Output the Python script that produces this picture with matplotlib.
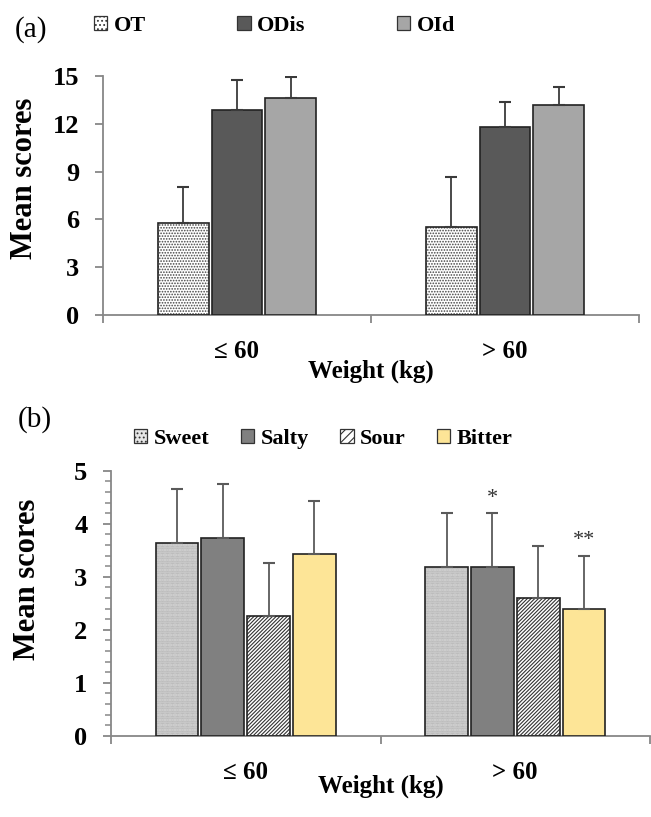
import matplotlib
matplotlib.use("Agg")
import matplotlib.pyplot as plt
from matplotlib.patches import Patch
import numpy as np

plt.rcParams['font.family'] = ['Liberation Serif', 'DejaVu Serif']
plt.rcParams['hatch.linewidth'] = 0.8

# ---------------- data ----------------
categories = ["\u2264 60", "> 60"]
xlabel_txt = "Weight (kg)"
ylabel_txt = "Mean scores"

odor_names = ["OT", "ODis", "OId"]
ot_mean = [5.75, 5.5]
ot_sd = [2.28, 3.18]
odis_mean = [12.87, 11.78]
odis_sd = [1.88, 1.57]
oid_mean = [13.6, 13.2]
oid_sd = [1.32, 1.13]

taste_names = ["Sweet", "Salty", "Sour", "Bitter"]
sweet_mean = [3.64, 3.19]
sweet_sd = [1.01, 1.01]
salty_mean = [3.73, 3.19]
salty_sd = [1.01, 1.01]
sour_mean = [2.26, 2.60]
sour_sd = [0.99, 0.98]
bitter_mean = [3.43, 2.40]
bitter_sd = [1.00, 1.00]

# significance marks: (series index, category index, label)
sig_marks = [(1, 1, "*"), (3, 1, "**")]

# ---------------- styles ----------------
odor_styles = [
    dict(fc="white", hatch="......", hc="#444444"),
    dict(fc="#595959", hatch=None, hc=None),
    dict(fc="#a6a6a6", hatch=None, hc=None),
]
taste_styles = [
    dict(fc="#e6e6e6", hatch="..........", hc="#a0a0a0"),
    dict(fc="#808080", hatch=None, hc=None),
    dict(fc="white", hatch="/////////", hc="#333333"),
    dict(fc="#fde597", hatch=None, hc=None),
]

SPINE = "#878787"
W, H = 651, 817
fig = plt.figure(figsize=(W / 100, H / 100), dpi=100)
ax1 = fig.add_axes([103 / W, 1 - 315 / H, 536 / W, 239 / H])
ax2 = fig.add_axes([111 / W, 1 - 735.7 / H, 539 / W, 265 / H])


def draw(ax, means, sds, styles, width, step, ecolor):
    x = np.arange(len(categories))
    n = len(means)
    offs = (np.arange(n) - (n - 1) / 2) * step
    tops = []
    for i in range(n):
        st = styles[i]
        xs = x + offs[i]
        if st["hatch"]:
            ax.bar(xs, means[i], width, color=st["fc"], edgecolor=st["hc"],
                   hatch=st["hatch"], linewidth=0, zorder=2)
            ax.bar(xs, means[i], width, color="none", edgecolor="#222222",
                   linewidth=1.2, zorder=3)
        else:
            ax.bar(xs, means[i], width, color=st["fc"], edgecolor="#222222",
                   linewidth=1.2, zorder=3)
        ax.errorbar(xs, means[i], yerr=[np.zeros(len(x)), sds[i]], fmt="none",
                    ecolor=ecolor, elinewidth=1.3, capsize=4, capthick=1.5,
                    zorder=4)
        tops.append((xs, np.array(means[i]) + np.array(sds[i])))
    return tops


def style_axes(ax):
    for s in ["top", "right"]:
        ax.spines[s].set_visible(False)
    for s in ["left", "bottom"]:
        ax.spines[s].set_color(SPINE)
        ax.spines[s].set_linewidth(1.3)
    ax.set_xlim(-0.5, 1.5)
    ax.set_xticks([-0.5, 0.5, 1.5])
    ax.set_xticklabels([])
    ax.set_xticks([0, 1], minor=True)
    ax.set_xticklabels(categories, minor=True, fontsize=18, fontweight="bold")
    ax.tick_params(axis="x", which="major", length=6, width=1.3, color=SPINE,
                   direction="out")
    ax.tick_params(axis="x", which="minor", length=0, pad=18)
    ax.tick_params(axis="y", which="major", length=6, width=1.3, color=SPINE,
                   labelsize=19, pad=11)
    ax.tick_params(axis="y", which="minor", length=4, width=1.1, color=SPINE)
    for lab in ax.get_yticklabels():
        lab.set_fontweight("bold")


# ---- panel (a) ----
draw(ax1, [ot_mean, odis_mean, oid_mean], [ot_sd, odis_sd, oid_sd],
     odor_styles, 0.19, 0.2, "#3a3a3a")
style_axes(ax1)
ax1.set_ylim(0, 15)
ax1.set_yticks(np.arange(0, 16, 3))
ax1.set_yticklabels([str(v) for v in range(0, 16, 3)], fontweight="bold")
ax1.set_ylabel(ylabel_txt, fontsize=22, fontweight="bold", va="center")
ax1.yaxis.set_label_coords(-0.147, 0.573)
ax1.set_xlabel(xlabel_txt, fontsize=18, fontweight="bold")
ax1.xaxis.set_label_coords(0.5, -0.185)

# ---- panel (b) ----
tops = draw(ax2, [sweet_mean, salty_mean, sour_mean, bitter_mean],
            [sweet_sd, salty_sd, sour_sd, bitter_sd],
            taste_styles, 0.159, 0.17, "#5a5a5a")
style_axes(ax2)
ax2.set_ylim(0, 5)
ax2.set_yticks(np.arange(0, 6, 1))
ax2.set_yticklabels([str(v) for v in range(0, 6)], fontweight="bold")
ax2.set_yticks(np.arange(0, 5.01, 0.2), minor=True)
ax2.set_ylabel(ylabel_txt, fontsize=22, fontweight="bold", va="center")
ax2.yaxis.set_label_coords(-0.154, 0.591)
ax2.set_xlabel(xlabel_txt, fontsize=18, fontweight="bold")
ax2.xaxis.set_label_coords(0.5, -0.148)

for si, ci, lab in sig_marks:
    xs, ts = tops[si]
    ax2.text(xs[ci], ts[ci] + 0.1, lab, ha="center", va="bottom",
             fontsize=16, color="#333333")

# ---- legends ----
def handles(styles, names):
    hs = []
    for st, nm in zip(styles, names):
        hs.append(Patch(facecolor=st["fc"], edgecolor="#333333",
                        hatch=(st["hatch"][:4] if st["hatch"] else None),
                        linewidth=0.9, label=nm))
    return hs

fig.legend(handles=handles(odor_styles, odor_names), loc="center left",
           bbox_to_anchor=(94 / W, 1 - 26 / H), ncol=3, frameon=False,
           borderaxespad=0, borderpad=0, handlelength=0.6, handleheight=0.6,
           handletextpad=0.3, columnspacing=4.1,
           prop=dict(weight="bold", size=16))
fig.legend(handles=handles(taste_styles, taste_names), loc="center left",
           bbox_to_anchor=(134 / W, 1 - 439 / H), ncol=4, frameon=False,
           borderaxespad=0, borderpad=0, handlelength=0.6, handleheight=0.6,
           handletextpad=0.3, columnspacing=1.4,
           prop=dict(weight="bold", size=16))

fig.text(15 / W, 1 - 30 / H, "(a)", fontsize=21, ha="left", va="center")
fig.text(18 / W, 1 - 420 / H, "(b)", fontsize=21, ha="left", va="center")

fig.savefig("out.png", dpi=100)
